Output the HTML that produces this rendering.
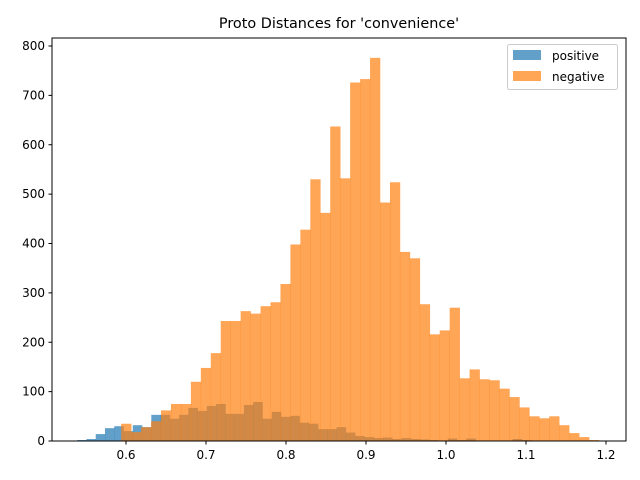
<!DOCTYPE html>
<html><head><meta charset="utf-8"><style>
html,body{margin:0;padding:0;background:#fff;}
svg{display:block;font-family:"DejaVu Sans","Liberation Sans",sans-serif;}
</style></head><body>
<svg id="chart" width="640" height="480" viewBox="0 0 640 480">
<rect x="0" y="0" width="640" height="480" fill="#fff"/>
<text x="339" y="28" text-anchor="middle" font-size="14.4" fill="#000">Proto Distances for 'convenience'</text>
<g id="bars"></g>
<g id="axes"></g>
<g>
<rect x="507.5" y="44.5" width="110" height="45" rx="2" fill="#fff" fill-opacity="0.8" stroke="#ccc"/>
<g>
<rect x="513" y="50" width="28" height="10" fill="#1f77b4" fill-opacity="0.7"/>
<text x="552" y="60" font-size="12">positive</text>
</g>
<g>
<rect x="513" y="71" width="28" height="10" fill="#ff7f0e" fill-opacity="0.7"/>
<text x="552" y="81" font-size="12">negative</text>
</g>
</g>
</svg>
<script>
const negStart = 0.594;
const negEnd = 1.19125;
const negCounts = [35,18,28,40,62,75,75,120,148,178,243,243,263,258,273,281,318,398,428,530,462,637,532,726,733,776,483,524,383,370,277,216,224,270,127,145,125,123,106,89,68,50,46,50,32,16,8,2];
const posStart = 0.539;
const posEnd = 1.118;
const posCounts = [2,4,14,26,30,20,32,28,53,53,45,53,67,61,71,75,55,55,73,79,45,59,49,51,37,35,24,24,28,17,10,8,6,7,4,6,4,3,2,1,5,2,5,1,1,0,1,4,2,0];
const yTicks = [0,100,200,300,400,500,600,700,800];
const xTicks = [0.6,0.7,0.8,0.9,1.0,1.1,1.2];
const xTickLabels = ["0.6","0.7","0.8","0.9","1.0","1.1","1.2"];

const L=52, R=626, T=38, B=441;
function xs(v){return 126 + (v-0.6)*800;}
function ys(v){return B - v*(395/800);}
const NS="http://www.w3.org/2000/svg";
const bars=document.getElementById('bars');
function drawHist(counts,start,end,color,name){
  const w=(end-start)/counts.length;
  counts.forEach((c,i)=>{
    if(c<=0) return;
    const r=document.createElementNS(NS,'rect');
    const x0=xs(start+i*w), x1=xs(start+(i+1)*w);
    r.setAttribute('x',x0);
    r.setAttribute('width',x1-x0+0.3);
    r.setAttribute('y',ys(c));
    r.setAttribute('height',B-ys(c));
    r.setAttribute('fill',color);
    r.setAttribute('fill-opacity','0.7');
    
    
    bars.appendChild(r);
  });
}
drawHist(posCounts,posStart,posEnd,'#1f77b4','positive');
drawHist(negCounts,negStart,negEnd,'#ff7f0e','negative');

const axes=document.getElementById('axes');
const frame=document.createElementNS(NS,'rect');
frame.setAttribute('x',L);frame.setAttribute('y',T);
frame.setAttribute('width',R-L);frame.setAttribute('height',B-T);
frame.setAttribute('fill','none');frame.setAttribute('stroke','#000');frame.setAttribute('stroke-width','1');


axes.appendChild(frame);
yTicks.forEach(v=>{
  const y=ys(v);
  const l=document.createElementNS(NS,'line');
  l.setAttribute('x1',L-3.5);l.setAttribute('x2',L);l.setAttribute('y1',y);l.setAttribute('y2',y);
  l.setAttribute('stroke','#000');
  
  
  axes.appendChild(l);
  const t=document.createElementNS(NS,'text');
  t.setAttribute('x',L-7);t.setAttribute('y',y+4);t.setAttribute('text-anchor','end');t.setAttribute('font-size','12');
  t.textContent=v;
  
  
  axes.appendChild(t);
});
xTicks.forEach((v,i)=>{
  const x=xs(v);
  const l=document.createElementNS(NS,'line');
  l.setAttribute('x1',x);l.setAttribute('x2',x);l.setAttribute('y1',B);l.setAttribute('y2',B+3.5);
  l.setAttribute('stroke','#000');
  
  
  axes.appendChild(l);
  const t=document.createElementNS(NS,'text');
  t.setAttribute('x',x);t.setAttribute('y',B+18);t.setAttribute('text-anchor','middle');t.setAttribute('font-size','12');
  t.textContent=xTickLabels[i];
  
  
  axes.appendChild(t);
});
</script>
</body></html>
